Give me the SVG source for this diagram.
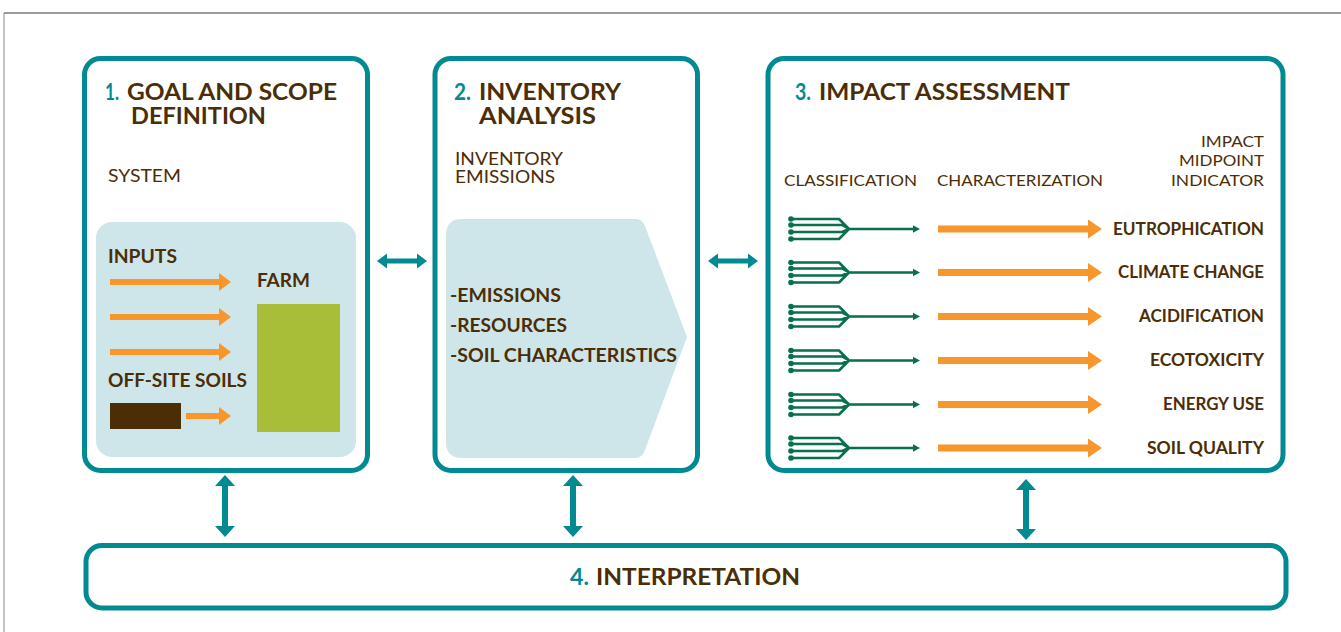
<svg xmlns="http://www.w3.org/2000/svg" xmlns:xlink="http://www.w3.org/1999/xlink" width="1341" height="632" viewBox="0 0 1341 632">
<style>
.box{fill:#fff;stroke:#028A93;stroke-width:5}
.title{font-family:Lato,"Liberation Sans",sans-serif;font-weight:700;font-size:23px;fill:#4B2D06}
.num{font-family:Lato,"Liberation Sans",sans-serif;font-weight:700;font-size:23px;fill:#028A93}
.reg{font-family:Lato,"Liberation Sans",sans-serif;font-weight:400;font-size:18px;fill:#4B2D06}
.reg2{font-family:Lato,"Liberation Sans",sans-serif;font-weight:400;font-size:16.5px;fill:#4B2D06}
.bold{font-family:Lato,"Liberation Sans",sans-serif;font-weight:700;font-size:18px;fill:#4B2D06}
.lbl{font-family:Lato,"Liberation Sans",sans-serif;font-weight:700;font-size:16.5px;fill:#4B2D06}
.hd{font-family:Lato,"Liberation Sans",sans-serif;font-weight:400;font-size:16px;fill:#4B2D06}
.org{fill:#F7962B}
.teal{fill:#028A93}
.fork{fill:none;stroke:#08704A;stroke-width:2.5;stroke-linejoin:round}
.dot{fill:#08704A}
</style>
<defs>
<g id="fork">
<path class="fork" d="M791,-10 H839 L849,0 M791,-4 H842 L849,0 M791,3 H842 L849,0 M791,10 H839 L849,0 M849,0 H914"/>
<circle class="dot" cx="791" cy="-10" r="2.8"/>
<circle class="dot" cx="791" cy="-4" r="2.8"/>
<circle class="dot" cx="791" cy="3" r="2.8"/>
<circle class="dot" cx="791" cy="10" r="2.8"/>
<polygon class="dot" points="913,-3.8 920,0 913,3.8"/>
</g>
<g id="charArrow">
<rect class="org" x="938" y="-3.5" width="152" height="7"/>
<polygon class="org" points="1088,-9.5 1102,0 1088,9.5"/>
</g>
<g id="inArrow">
<rect class="org" x="110" y="-3" width="110" height="6"/>
<polygon class="org" points="219,-9 231,0 219,9"/>
</g>
</defs>

<!-- frame -->
<line x1="4" y1="13" x2="1341" y2="13" stroke="#7A7A7A" stroke-width="1.6"/>
<line x1="4" y1="13" x2="4" y2="632" stroke="#8A8A8A" stroke-width="1"/>

<g id="goal-scope">
<rect class="box" x="84.5" y="58.5" width="283" height="412" rx="16"/>
<text class="num" x="105" y="100" textLength="14" lengthAdjust="spacingAndGlyphs">1.</text>
<text class="title" x="127" y="100" textLength="210" lengthAdjust="spacingAndGlyphs">GOAL AND SCOPE</text>
<text class="title" x="131" y="124" textLength="135" lengthAdjust="spacingAndGlyphs">DEFINITION</text>
<text class="reg" x="108" y="182" textLength="73" lengthAdjust="spacingAndGlyphs">SYSTEM</text>
<rect x="96" y="222" width="260" height="235" rx="16" fill="#CEE6EA"/>
<text class="bold" x="108" y="263" textLength="69" lengthAdjust="spacingAndGlyphs">INPUTS</text>
<use xlink:href="#inArrow" href="#inArrow" transform="translate(0,282)"/>
<use xlink:href="#inArrow" href="#inArrow" transform="translate(0,317)"/>
<use xlink:href="#inArrow" href="#inArrow" transform="translate(0,352)"/>
<text class="bold" x="257" y="287" textLength="53" lengthAdjust="spacingAndGlyphs">FARM</text>
<rect x="257" y="304" width="83" height="128" fill="#A8BE39"/>
<text class="bold" x="108" y="387" textLength="139" lengthAdjust="spacingAndGlyphs">OFF-SITE SOILS</text>
<rect x="110" y="403" width="71" height="26" fill="#4B2D06"/>
<rect class="org" x="186" y="413" width="34" height="6"/>
<polygon class="org" points="219,407 231,416 219,425"/>
</g>

<g id="inventory">
<rect class="box" x="435" y="58.5" width="262.5" height="412" rx="16"/>
<text class="num" x="454" y="100" textLength="17" lengthAdjust="spacingAndGlyphs">2.</text>
<text class="title" x="479" y="100" textLength="142" lengthAdjust="spacingAndGlyphs">INVENTORY</text>
<text class="title" x="479" y="124" textLength="117" lengthAdjust="spacingAndGlyphs">ANALYSIS</text>
<text class="reg2" x="455" y="165" textLength="108" lengthAdjust="spacingAndGlyphs">INVENTORY</text>
<text class="reg2" x="455" y="183" textLength="100" lengthAdjust="spacingAndGlyphs">EMISSIONS</text>
<path d="M462,219 H636 Q642,219 645,226 L687,337 L645,450 Q642,458 636,458 H462 Q446,458 446,442 V235 Q446,219 462,219 Z" fill="#CEE6EA"/>
<text class="bold" x="450" y="302" textLength="111" lengthAdjust="spacingAndGlyphs">-EMISSIONS</text>
<text class="bold" x="450" y="332" textLength="117" lengthAdjust="spacingAndGlyphs">-RESOURCES</text>
<text class="bold" x="450" y="362" textLength="227" lengthAdjust="spacingAndGlyphs">-SOIL CHARACTERISTICS</text>
</g>

<g id="impact">
<rect class="box" x="768" y="58.5" width="515" height="412" rx="16"/>
<text class="num" x="795" y="100" textLength="16" lengthAdjust="spacingAndGlyphs">3.</text>
<text class="title" x="819" y="100" textLength="251" lengthAdjust="spacingAndGlyphs">IMPACT ASSESSMENT</text>
<text class="hd" x="784" y="185.5" textLength="133" lengthAdjust="spacingAndGlyphs">CLASSIFICATION</text>
<text class="hd" x="937" y="185.5" textLength="166" lengthAdjust="spacingAndGlyphs">CHARACTERIZATION</text>
<text class="hd" x="1264" y="147" text-anchor="end" textLength="63" lengthAdjust="spacingAndGlyphs">IMPACT</text>
<text class="hd" x="1264" y="166" text-anchor="end" textLength="85" lengthAdjust="spacingAndGlyphs">MIDPOINT</text>
<text class="hd" x="1264" y="185.5" text-anchor="end" textLength="93" lengthAdjust="spacingAndGlyphs">INDICATOR</text>
<g id="row-eutrophication" transform="translate(0,229)">
<use xlink:href="#fork" href="#fork"/><use xlink:href="#charArrow" href="#charArrow"/>
<text class="lbl" x="1264" y="5.5" text-anchor="end" textLength="151" lengthAdjust="spacingAndGlyphs">EUTROPHICATION</text>
</g>
<g id="row-climate" transform="translate(0,272.5)">
<use xlink:href="#fork" href="#fork"/><use xlink:href="#charArrow" href="#charArrow"/>
<text class="lbl" x="1264" y="5.5" text-anchor="end" textLength="146" lengthAdjust="spacingAndGlyphs">CLIMATE CHANGE</text>
</g>
<g id="row-acidification" transform="translate(0,316.5)">
<use xlink:href="#fork" href="#fork"/><use xlink:href="#charArrow" href="#charArrow"/>
<text class="lbl" x="1264" y="5.5" text-anchor="end" textLength="125" lengthAdjust="spacingAndGlyphs">ACIDIFICATION</text>
</g>
<g id="row-ecotoxicity" transform="translate(0,360.5)">
<use xlink:href="#fork" href="#fork"/><use xlink:href="#charArrow" href="#charArrow"/>
<text class="lbl" x="1264" y="5.5" text-anchor="end" textLength="114" lengthAdjust="spacingAndGlyphs">ECOTOXICITY</text>
</g>
<g id="row-energy" transform="translate(0,404.5)">
<use xlink:href="#fork" href="#fork"/><use xlink:href="#charArrow" href="#charArrow"/>
<text class="lbl" x="1264" y="5.5" text-anchor="end" textLength="101" lengthAdjust="spacingAndGlyphs">ENERGY USE</text>
</g>
<g id="row-soil" transform="translate(0,448)">
<use xlink:href="#fork" href="#fork"/><use xlink:href="#charArrow" href="#charArrow"/>
<text class="lbl" x="1264" y="5.5" text-anchor="end" textLength="117" lengthAdjust="spacingAndGlyphs">SOIL QUALITY</text>
</g>
</g>

<g id="interpretation">
<rect class="box" x="86" y="545.5" width="1200" height="62.5" rx="16"/>
<text class="num" x="570" y="585" textLength="19" lengthAdjust="spacingAndGlyphs">4.</text>
<text class="title" x="596" y="585" textLength="204" lengthAdjust="spacingAndGlyphs">INTERPRETATION</text>
</g>

<g id="connectors">
<polygon class="teal" points="377,261 387,253.5 387,258.5 417,258.5 417,253.5 427,261 417,268.5 417,263.5 387,263.5 387,268.5"/>
<polygon class="teal" points="708,261 718,253.5 718,258.5 748,258.5 748,253.5 758,261 748,268.5 748,263.5 718,263.5 718,268.5"/>
<polygon class="teal" points="225,475 235,486 228,486 228,526 235,526 225,537 215,526 222,526 222,486 215,486"/>
<polygon class="teal" points="573,475 583,486 576,486 576,526 583,526 573,537 563,526 570,526 570,486 563,486"/>
<polygon class="teal" points="1026,479 1036,490 1029,490 1029,529 1036,529 1026,540 1016,529 1023,529 1023,490 1016,490"/>
</g>
</svg>
